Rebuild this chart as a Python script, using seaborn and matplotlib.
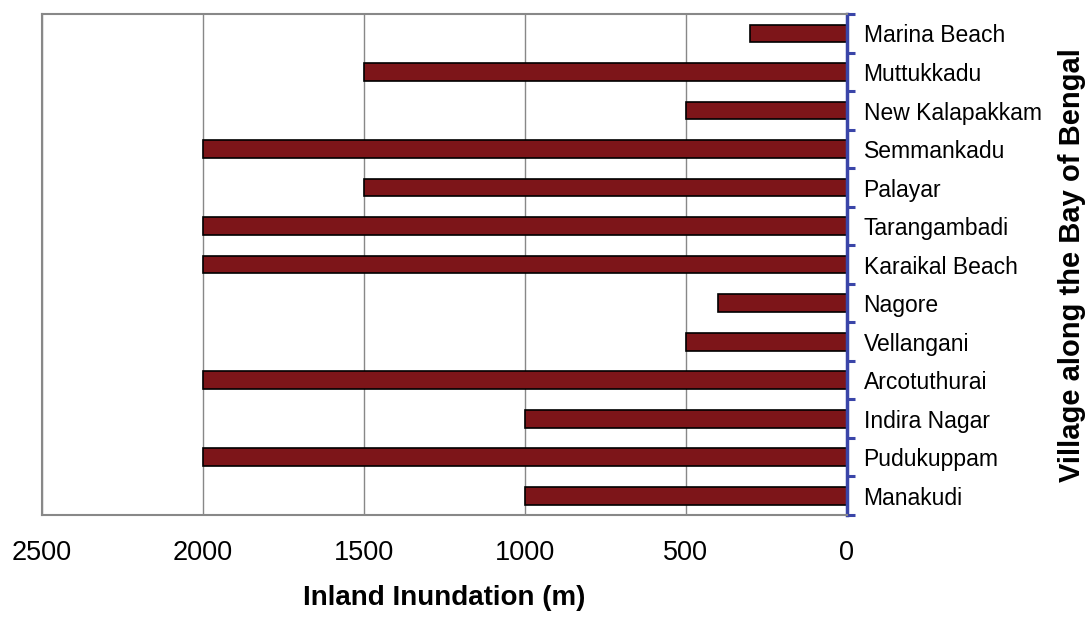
import pandas as pd
import matplotlib.pyplot as plt
import seaborn as sns
from matplotlib.ticker import FixedLocator

# Data (top to bottom)
villages = ['Marina Beach', 'Muttukkadu', 'New Kalapakkam', 'Semmankadu', 'Palayar',
            'Tarangambadi', 'Karaikal Beach', 'Nagore', 'Vellangani', 'Arcotuthurai',
            'Indira Nagar', 'Pudukuppam', 'Manakudi']
inundation = [300, 1500, 500, 2000, 1500, 2000, 2000, 400, 500, 2000, 1000, 2000, 1000]
x_ticks = [2500, 2000, 1500, 1000, 500, 0]

df = pd.DataFrame({'Village': villages, 'Inundation': inundation})

sns.set_style("white")
plt.rcParams['font.family'] = ['Liberation Sans', 'DejaVu Sans']
plt.rcParams['text.color'] = 'black'
plt.rcParams['axes.labelcolor'] = 'black'
plt.rcParams['xtick.color'] = 'black'
plt.rcParams['ytick.color'] = 'black'

fig = plt.figure(figsize=(10.9, 6.19), dpi=100)
ax = fig.add_axes([0.0385, 0.168, 0.7385, 0.809])

sns.barplot(data=df, x='Inundation', y='Village', orient='h', color='#7d1519',
            edgecolor='black', linewidth=1.2, width=0.46, saturation=1, ax=ax)

ax.set_xlim(2500, 0)
ax.set_ylim(len(villages) - 0.5, -0.5)
ax.set_xticks(x_ticks)
ax.set_xticklabels([str(t) for t in x_ticks], fontsize=19.5)
ax.xaxis.grid(True, color='#888888', linewidth=1)
ax.set_axisbelow(True)

# y axis on the right, blue spine with ticks between categories
ax.yaxis.tick_right()
ax.yaxis.set_label_position('right')
ax.yaxis.set_minor_locator(FixedLocator([i - 0.5 for i in range(len(villages) + 1)]))
ax.tick_params(axis='y', which='major', length=0, pad=12, labelsize=16.5)
ax.tick_params(axis='y', which='minor', length=6, width=2.2, color='#3a45a8', direction='out')
ax.tick_params(axis='x', which='major', length=8, width=1, color='#888888', pad=10)

for side in ['top', 'left', 'bottom']:
    ax.spines[side].set_color('#888888')
    ax.spines[side].set_linewidth(1.5)
ax.spines['right'].set_color('#3a45a8')
ax.spines['right'].set_linewidth(2.5)

ax.set_xlabel('Inland Inundation (m)', fontsize=20, fontweight='bold', labelpad=14)
ax.set_ylabel('Village along the Bay of Bengal', fontsize=21, fontweight='bold',
              rotation=90, labelpad=12)

fig.savefig('out.png', dpi=100)
